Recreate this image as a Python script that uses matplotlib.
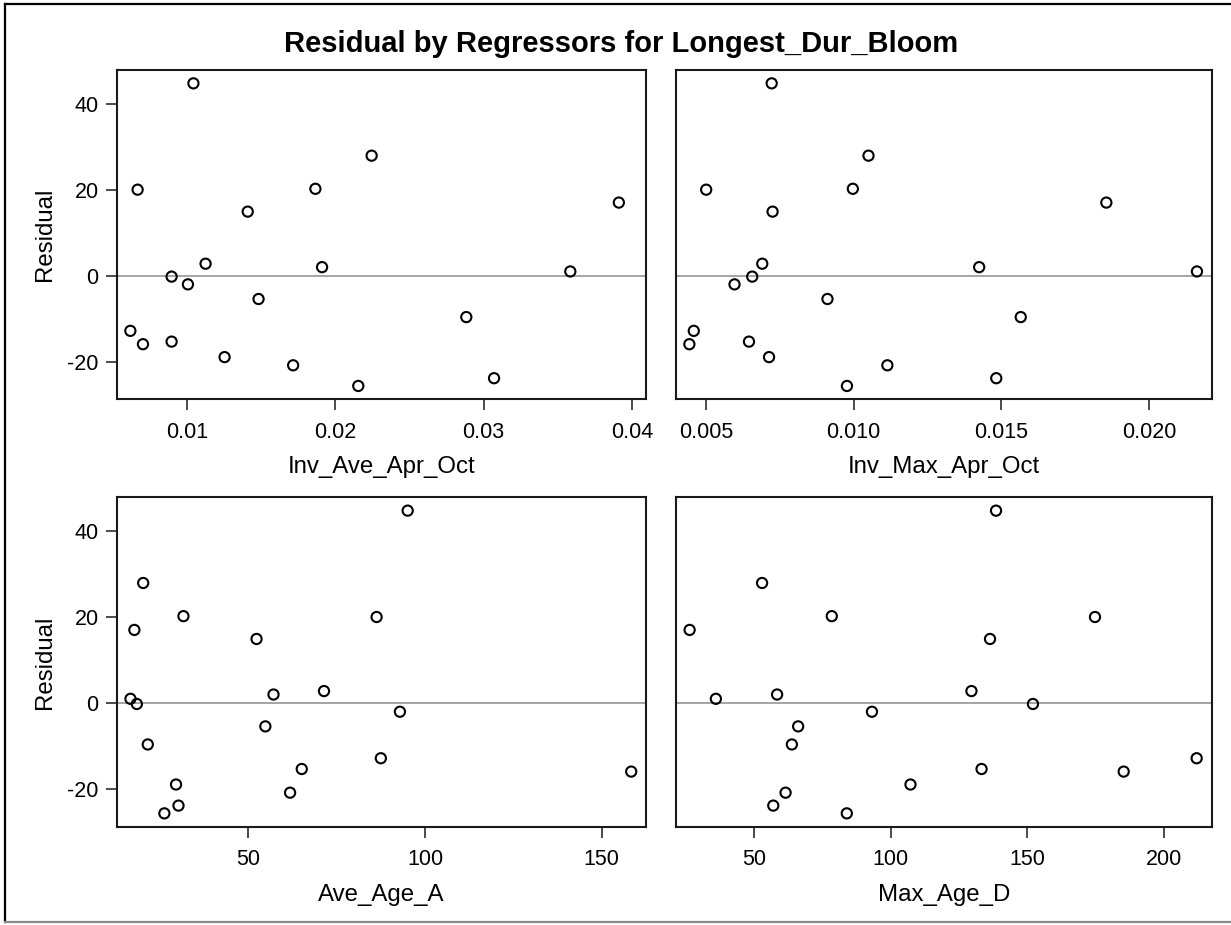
import matplotlib
matplotlib.use("Agg")
import matplotlib.pyplot as plt
from matplotlib.lines import Line2D

plt.rcParams["font.family"] = ["Liberation Sans", "DejaVu Sans"]
plt.rcParams["axes.unicode_minus"] = False

# Residuals of the Longest_Dur_Bloom model, one per observation
residual = [44.7, 27.9, 20.2, 20.0, 17.0, 14.9, 2.8, 2.0, 1.0, -0.2,
            -2.0, -5.4, -9.6, -12.8, -15.3, -15.9, -18.9, -20.8, -23.8, -25.6]

# Regressor values for the same observations
inv_ave_apr_oct = [0.01045, 0.02246, 0.01867, 0.00669, 0.03912, 0.01411, 0.01127,
                   0.01912, 0.03585, 0.00898, 0.01008, 0.01484, 0.02884, 0.00620,
                   0.00898, 0.00705, 0.01255, 0.01717, 0.03071, 0.02156]
inv_max_apr_oct = [0.00722, 0.01050, 0.00997, 0.00500, 0.01856, 0.00725, 0.00690,
                   0.01425, 0.02163, 0.00656, 0.00596, 0.00911, 0.01566, 0.00458,
                   0.00645, 0.00443, 0.00713, 0.01114, 0.01483, 0.00977]
ave_age_a = [95.1, 20.2, 31.6, 86.3, 17.7, 52.3, 71.4, 57.1, 16.6, 18.4,
             92.9, 54.8, 21.5, 87.5, 65.1, 158.4, 29.5, 61.8, 30.2, 26.2]
max_age_d = [138.6, 53.0, 78.5, 174.8, 26.5, 136.4, 129.6, 58.5, 36.1, 152.1,
             93.2, 66.2, 63.9, 212.0, 133.3, 185.3, 107.3, 61.6, 57.1, 84.0]

regressor_names = ["Inv_Ave_Apr_Oct", "Inv_Max_Apr_Oct", "Ave_Age_A", "Max_Age_D"]
x_tick_values = [[0.01, 0.02, 0.03, 0.04],
                 [0.005, 0.010, 0.015, 0.020],
                 [50, 100, 150],
                 [50, 100, 150, 200]]
x_tick_labels = [["0.01", "0.02", "0.03", "0.04"],
                 ["0.005", "0.010", "0.015", "0.020"],
                 ["50", "100", "150"],
                 ["50", "100", "150", "200"]]
y_tick_values = [-20, 0, 20, 40]
y_tick_labels = ["-20", "0", "20", "40"]

W, H = 1231, 925
fig = plt.figure(figsize=(W / 100, H / 100), dpi=100)


def axes_px(x0, x1, y0, y1):
    return fig.add_axes([x0 / W, 1 - y1 / H, (x1 - x0) / W, (y1 - y0) / H])


boxes = [(116.7, 645.7, 70.0, 399.3),
         (675.7, 1211.7, 70.0, 399.3),
         (116.7, 645.7, 497.3, 826.7),
         (675.7, 1211.7, 497.3, 826.7)]
xlims = [(0.00528, 0.04093), (0.003967, 0.02213), (12.7, 162.5), (21.4, 217.5)]
xdata = [inv_ave_apr_oct, inv_max_apr_oct, ave_age_a, max_age_d]

for i, box in enumerate(boxes):
    ax = axes_px(*box)
    ax.axhline(0, color="#8c8c8c", lw=1.1, zorder=1)
    ax.scatter(xdata[i], residual, s=54, facecolors="none",
               edgecolors="black", linewidths=1.5, zorder=3)
    ax.set_xlim(*xlims[i])
    ax.set_ylim(-28.7, 47.8)
    ax.set_xticks(x_tick_values[i])
    ax.set_xticklabels(x_tick_labels[i])
    ax.set_yticks(y_tick_values)
    ax.set_yticklabels(y_tick_labels)
    for sp in ax.spines.values():
        sp.set_linewidth(1.5)
        sp.set_color("#1a1a1a")
    ax.tick_params(axis="x", direction="out", length=8, width=1.1,
                   labelsize=15.5, pad=8, color="#1a1a1a")
    ax.tick_params(axis="y", direction="out", length=8, width=1.1,
                   labelsize=15.5, pad=5, color="#1a1a1a")
    ax.set_xlabel(regressor_names[i], fontsize=17.3, labelpad=10)
    if i % 2 == 0:
        ax.set_ylabel("Residual", fontsize=17.3, labelpad=8)
    else:
        ax.tick_params(axis="y", left=False, labelleft=False)

fig.text(621 / W, 1 - 52 / H, "Residual by Regressors for Longest_Dur_Bloom",
         ha="center", va="baseline", fontsize=21, fontweight="bold")

# outer frame of the graph area
fig.add_artist(Line2D([5 / W, 1.0], [1 - 4 / H, 1 - 4 / H], color="black", lw=1.6))
fig.add_artist(Line2D([5 / W, 5 / W], [1 - 4 / H, 1 - 922 / H], color="black", lw=1.6))
fig.add_artist(Line2D([5 / W, 1.0], [1 - 922 / H, 1 - 922 / H], color="#8c8c8c", lw=1.6))

fig.savefig("out.png", dpi=100)
